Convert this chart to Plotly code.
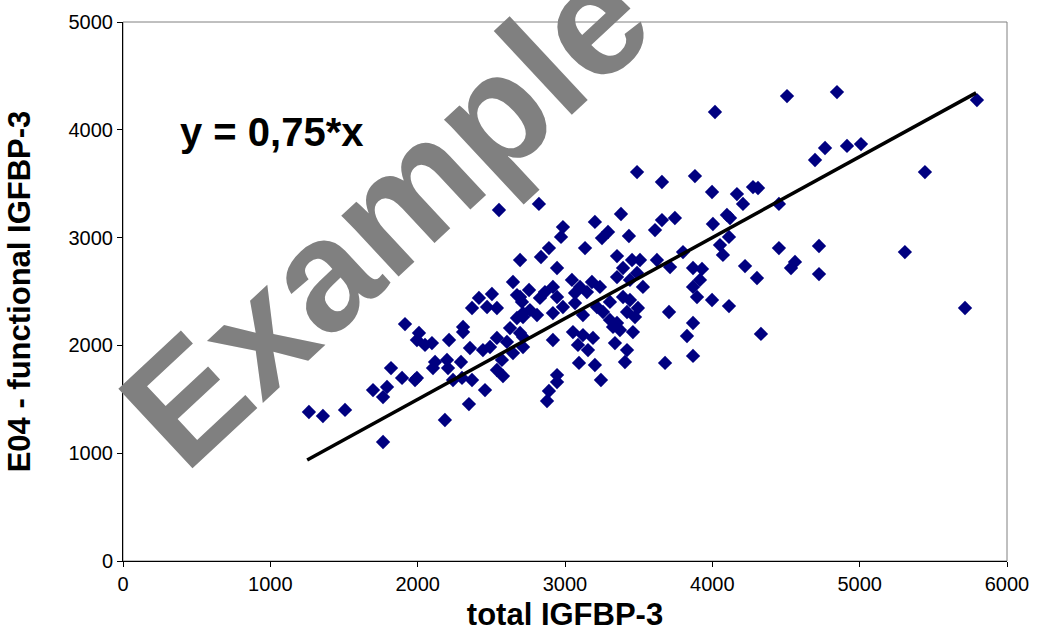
import plotly.graph_objects as go

# total IGFBP-3 (x) and E04 functional IGFBP-3 (y)
total_igfbp3 = [
    1914, 2009, 1995, 2050, 2097, 2213, 2308, 2308, 2355, 2369, 2471, 2538, 2443, 2491, 2538,
    2606, 2627, 2674, 2715, 2695, 2647, 2572, 2579, 2538, 2457, 2369, 2301, 2240, 2348, 2185,
    2199, 2206, 2118, 2104, 2294, 1995, 1982, 1894, 1819, 1792, 1765, 1697, 1507, 1357, 1262,
    1765, 2823, 3380, 3203, 3658, 3746, 3611, 3998, 4167, 4208, 4276, 3658, 4099, 4120, 4004,
    4113, 4052, 4072, 2986, 2973, 3251, 3292, 3434, 3136, 2891, 2837, 2695, 3353, 3455, 3509,
    3624, 3713, 3801, 3869, 3930, 3916, 3869, 3896, 3998, 4113, 2946, 2756, 2695, 2864, 2918,
    2946, 2830, 3047, 3102, 3149, 3068, 3183, 3237, 2986, 2918, 2762, 2715, 2810, 3068, 3122,
    3217, 3258, 3305, 3353, 3394, 3441, 3489, 3529, 3394, 3441, 3495, 3421, 3475, 3305, 3353,
    3373, 3461, 3326, 3054, 3122, 3190, 3088, 3156, 2918, 3339, 3421, 3407, 3095, 3203, 3244,
    2946, 2946, 2891, 2878, 3706, 3869, 3828, 3869, 3679, 2715, 2715, 4507, 4846, 5796, 4765,
    4697, 4914, 5009, 5443, 4310, 4452, 4452, 4724, 5307, 4222, 4303, 4534, 4561, 4724, 5715,
    4330, 4018, 3489, 3882, 2552, 2647, 2504, 2416, 2674, 2708,
]
functional_igfbp3 = [
    2198, 2115, 2050, 2004, 2022, 2050, 2171, 2124, 1976, 2347, 2356, 2347, 1957, 1985, 2069,
    2032, 2161, 2254, 2300, 2115, 1929, 1865, 1716, 1772, 1586, 1679, 1698, 1679, 1456, 1308,
    1865, 1790, 1846, 1790, 1846, 1698, 1679, 1698, 1790, 1614, 1521, 1586, 1401, 1345, 1382,
    1104, 3312, 3219, 3145, 3163, 3182, 3070, 3423, 3404, 3312, 3469, 3516, 3210, 3182, 3126,
    3006, 2931, 2839, 3098, 3006, 2996, 3052, 3015, 2903, 2903, 2820, 2792, 2829, 2792, 2792,
    2792, 2727, 2866, 2718, 2709, 2607, 2542, 2449, 2421, 2365, 2718, 2514, 2449, 2495, 2542,
    2449, 2440, 2607, 2542, 2495, 2486, 2588, 2542, 2356, 2300, 2328, 2263, 2282, 2393, 2282,
    2356, 2310, 2403, 2634, 2718, 2607, 2672, 2542, 2449, 2421, 2347, 2310, 2263, 2236, 2208,
    2143, 2124, 2171, 2124, 2096, 2069, 2004, 1957, 2050, 2022, 1957, 1846, 1837, 1818, 1679,
    1725, 1660, 1577, 1484, 2310, 2208, 2087, 1902, 1837, 2078, 1985, 4313, 4350, 4276, 3831,
    3720, 3850, 3868, 3608, 3460, 3312, 2903, 2922, 2866, 2736, 2625, 2718, 2774, 2662, 2347,
    2106, 4165, 3608, 3571, 3256, 2588, 2477, 2440, 2467, 2403,
]

# fitted line y = 0,75*x
slope = 0.75
line_x = [1250, 5790]
line_y = [slope * v for v in line_x]

x_ticks = [0, 1000, 2000, 3000, 4000, 5000, 6000]
y_ticks = [0, 1000, 2000, 3000, 4000, 5000]

FONT = "Liberation Sans, Arial, sans-serif"

fig = go.Figure()
fig.add_trace(go.Scatter(
    x=total_igfbp3, y=functional_igfbp3, mode="markers",
    marker=dict(symbol="diamond", size=11, color="#000080", line=dict(width=0)),
    showlegend=False, hoverinfo="skip",
))
fig.add_trace(go.Scatter(
    x=line_x, y=line_y, mode="lines",
    line=dict(color="black", width=3.5),
    showlegend=False, hoverinfo="skip",
))

fig.update_layout(
    width=1040, height=632,
    margin=dict(l=123, r=33, t=22, b=71),
    paper_bgcolor="white", plot_bgcolor="white",
    font=dict(family=FONT, color="black"),
    xaxis=dict(
        range=[0, 6000], tickvals=x_ticks, ticktext=[str(v) for v in x_ticks],
        showgrid=False, zeroline=False, showline=True, linecolor="black", linewidth=1,
        ticks="outside", ticklen=5, tickcolor="black", tickfont=dict(size=20, family=FONT),
        automargin=False,
        title=dict(text="<b>total IGFBP-3</b>", font=dict(size=31, family=FONT), standoff=14),
    ),
    yaxis=dict(
        range=[0, 5000], tickvals=y_ticks, ticktext=[str(v) for v in y_ticks],
        showgrid=False, zeroline=False, showline=True, linecolor="black", linewidth=1,
        ticks="outside", ticklen=5, tickcolor="black", tickfont=dict(size=20, family=FONT),
        automargin=False,
        title=dict(text="<b>E04 - functional IGFBP-3</b>", font=dict(size=31, family=FONT), standoff=28),
    ),
    shapes=[dict(type="rect", xref="paper", yref="paper", x0=0, x1=1, y0=0, y1=1,
                 line=dict(color="#808080", width=1), layer="below")],
    annotations=[
        dict(text="<b>y = 0,75*x</b>", xref="paper", yref="paper", x=0.1686, y=0.796,
             xanchor="center", yanchor="middle",
             showarrow=False, font=dict(size=40, family=FONT, color="black")),
        dict(text="<b>Example</b>", xref="paper", yref="paper", x=0.296, y=0.644,
             xanchor="center", yanchor="middle",
             showarrow=False, textangle=-43,
             font=dict(size=158, family=FONT, color="#808080")),
    ],
)

fig.write_html("out.html")
